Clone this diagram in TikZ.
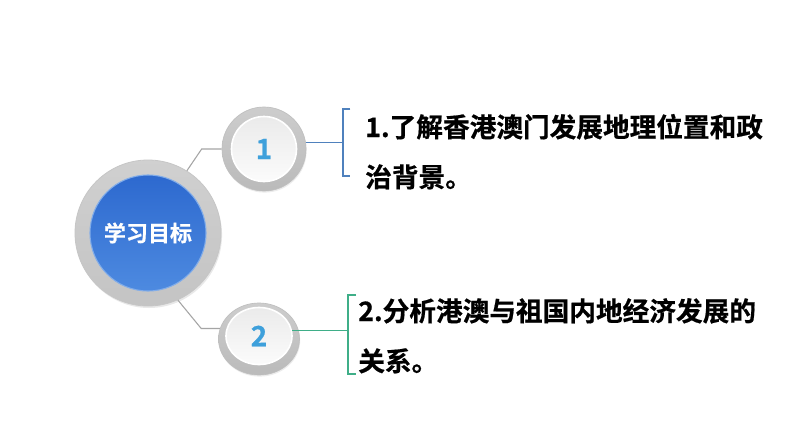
\documentclass[tikz,border=0pt]{standalone}
\usepackage{fontspec}
\newfontfamily\cjkb{Noto Sans CJK SC Bold}[FakeBold=0.6]
\usepackage{tikz}
\usetikzlibrary{shapes.geometric,shadows}

\definecolor{ringgray}{HTML}{C4C4C4}
\definecolor{linegray}{HTML}{A5A5A5}
\definecolor{linkblue}{HTML}{4F81BD}
\definecolor{linkgreen}{HTML}{3FAE88}
\definecolor{digitblue}{HTML}{3EA0DB}
\definecolor{discdark}{HTML}{2D69CF}
\definecolor{disclight}{HTML}{4D8AE0}

\begin{document}
\begin{tikzpicture}[
    x=0.75pt, y=-0.75pt,
    bigring/.style={circle, minimum size=109.5pt, inner sep=0pt,
      top color=ringgray!80, bottom color=ringgray, draw=gray!45, line width=.6pt,
      drop shadow={opacity=.18, shadow xshift=.8pt, shadow yshift=-1.5pt}},
    bluedisc/.style={circle, minimum size=87pt, inner sep=0pt,
      top color=discdark, bottom color=disclight, draw=disclight!70!white, line width=.8pt,
      text=white, font=\cjkb\fontsize{16.5}{18}\selectfont},
    numring/.style={inner sep=0pt, top color=ringgray!85, bottom color=ringgray!95!black,
      draw=gray!50, line width=.5pt,
      drop shadow={opacity=.15, shadow xshift=.5pt, shadow yshift=-1.2pt}},
    numdisc/.style={inner sep=0pt, top color=gray!16, bottom color=gray!3,
      draw=white, line width=1.2pt, text=digitblue,
      font=\cjkb\fontsize{21}{24}\selectfont},
    goaltext/.style={anchor=base west, inner sep=0pt, align=left,
      font=\cjkb\fontsize{20}{37.5}\selectfont},
    gline/.style={draw=linegray, line width=.8pt},
    blueline/.style={draw=linkblue, line width=.9pt},
    greenline/.style={draw=linkgreen, line width=.9pt}
  ]
    \useasboundingbox[fill=white] (0,0) rectangle (794,447);

    % centre circle
    \node[bigring] (goal) at (148,233) {};
    \node[bluedisc] (goalin) at (goal) {学习目标};

    % numbered circles
    \node[numring, circle, minimum size=63pt] (n1) at (264,149) {};
    \node[numdisc, circle, minimum size=48.75pt] (n1in) at (n1) {1};
    \node[numring, ellipse, minimum width=60.75pt, minimum height=54pt] (n2) at (259,339) {};
    \node[numdisc, ellipse, minimum width=49.5pt, minimum height=42.75pt] (n2in) at (259,336) {2};

    % texts (base = last line)
    \node[goaltext] (t1) at (365,187) {1.了解香港澳门发展地理位置和政\\治背景。};
    \node[goaltext] (t2) at (358,371) {2.分析港澳与祖国内地经济发展的\\关系。};

    % brackets
    \coordinate (b1top) at (343,109);
    \coordinate (b1bot) at (343,176);
    \coordinate (b2top) at (348,295);
    \coordinate (b2bot) at (348,374);
    \draw[blueline] ([xshift=5.5pt]b1top) -- (b1top) -- (b1bot) -- ([xshift=5.5pt]b1bot);
    \draw[greenline] ([xshift=6pt]b2top) -- (b2top) -- (b2bot) -- ([xshift=6pt]b2bot);

    % connectors
    \draw[gline] (goal.58) -- ([xshift=-15pt]n1.west) -- (n1.west);
    \draw[gline] (goal.-66) -- ([xshift=-14pt]n2.165) -- (n2.165);
    \draw[blueline] (n1.9) -- (n1.9 -| b1top);
    \draw[greenline] (n2in.10) -- (n2in.10 -| b2top);
\end{tikzpicture}
\end{document}
